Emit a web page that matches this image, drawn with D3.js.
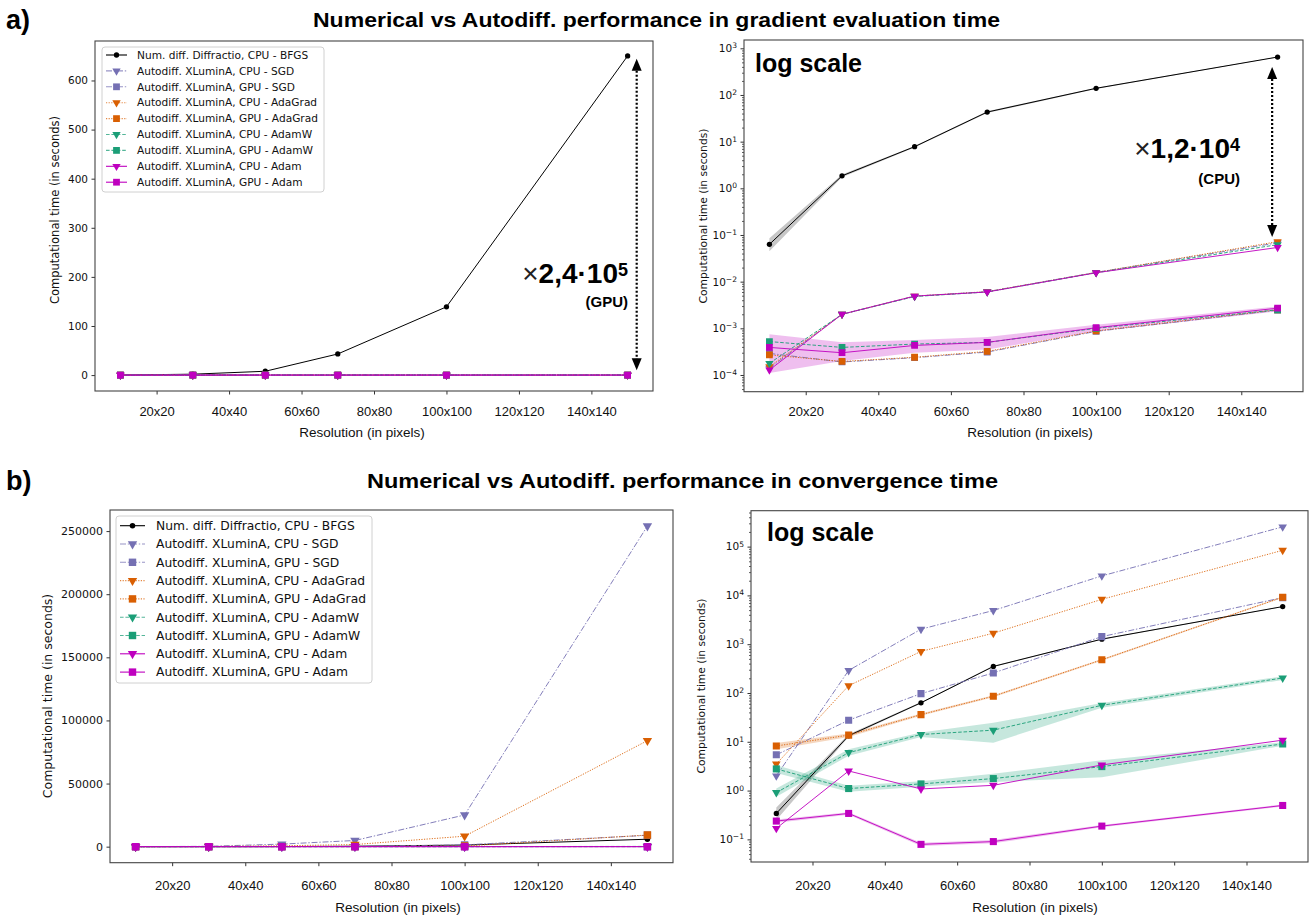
<!DOCTYPE html>
<html><head><meta charset="utf-8">
<script src="https://cdn.jsdelivr.net/npm/d3@7"></script>
<style>body{margin:0;background:#fff}</style>
</head><body>
<svg id="c" width="1315" height="917" xmlns="http://www.w3.org/2000/svg"></svg>
<script>
// ---------- DATA ----------
const resolutions = [10, 30, 50, 70, 100, 150];
const xTickValues = [20, 40, 60, 80, 100, 120, 140];
const xTickLabels = ["20x20", "40x40", "60x60", "80x80", "100x100", "120x120", "140x140"];
const seriesLabels = [
  "Num. diff. Diffractio, CPU - BFGS",
  "Autodiff. XLuminA, CPU - SGD",
  "Autodiff. XLuminA, GPU - SGD",
  "Autodiff. XLuminA, CPU - AdaGrad",
  "Autodiff. XLuminA, GPU - AdaGrad",
  "Autodiff. XLuminA, CPU - AdamW",
  "Autodiff. XLuminA, GPU - AdamW",
  "Autodiff. XLuminA, CPU - Adam",
  "Autodiff. XLuminA, GPU - Adam"
];

// a) gradient evaluation time (seconds)
const gradBFGS       = [0.063, 1.85, 7.8, 43, 139, 650];
const gradSGDcpu     = [1.4e-4, 2.0e-3, 4.9e-3, 6.1e-3, 1.58e-2, 0.068];
const gradSGDgpu     = [2.9e-4, 1.9e-4, 2.35e-4, 3.1e-4, 8.6e-4, 2.45e-3];
const gradAdaGradCpu = [1.5e-4, 2.0e-3, 4.9e-3, 6.1e-3, 1.57e-2, 0.072];
const gradAdaGradGpu = [2.7e-4, 1.95e-4, 2.4e-4, 3.2e-4, 8.8e-4, 2.5e-3];
const gradAdamWcpu   = [1.78e-4, 2.0e-3, 4.8e-3, 6.0e-3, 1.55e-2, 0.062];
const gradAdamWgpu   = [5.2e-4, 3.9e-4, 4.6e-4, 5.0e-4, 1.0e-3, 2.5e-3];
const gradAdamCpu    = [1.28e-4, 2.0e-3, 4.9e-3, 6.0e-3, 1.55e-2, 0.054];
const gradAdamGpu    = [3.9e-4, 3.0e-4, 4.3e-4, 5.0e-4, 1.03e-3, 2.7e-3];
// spread bands (low / high)
const gradBFGSLow    = [0.045, 1.72, 7.5, 41, 135, 640];
const gradBFGSHigh   = [0.085, 1.98, 8.1, 45, 143, 660];
const gradAdamGpuLow = [1.1e-4, 2.0e-4, 3.0e-4, 3.5e-4, 8.5e-4, 2.3e-3];
const gradAdamGpuHigh= [7.5e-4, 5.0e-4, 5.6e-4, 6.5e-4, 1.2e-3, 2.95e-3];

// b) convergence time (seconds)
const convBFGS       = [0.34, 13.3, 63, 350, 1270, 5900];
const convSGDcpu     = [2.0, 290, 2030, 4900, 25100, 254000];
const convSGDgpu     = [5.4, 27.7, 97, 257, 1430, 9000];
const convAdaGradCpu = [3.5, 141, 711, 1680, 8300, 84000];
const convAdaGradGpu = [8.2, 13.7, 36, 86, 480, 9200];
const convAdamWcpu   = [0.91, 6.0, 14.1, 17.3, 56, 203];
const convAdamWgpu   = [2.78, 1.1, 1.37, 1.76, 3.1, 9.0];
const convAdamCpu    = [0.168, 2.52, 1.08, 1.28, 3.35, 10.8];
const convAdamGpu    = [0.237, 0.34, 0.079, 0.09, 0.187, 0.495];
const convBFGSLow    = [0.25, 12.5, 61, 340, 1240, 5800];
const convBFGSHigh   = [0.45, 14.2, 65, 360, 1300, 6000];
const convAdaGradGpuLow  = [7.0, 12.6, 34, 82, 460, 8900];
const convAdaGradGpuHigh = [9.4, 14.8, 38, 90, 500, 9500];
const convAdamWcpuLow  = [0.75, 5.2, 12.5, 9.6, 50, 185];
const convAdamWcpuHigh = [1.1, 7.0, 15.5, 24.5, 62, 220];
const convAdamWgpuLow  = [2.3, 0.95, 1.2, 1.5, 1.87, 8.3];
const convAdamWgpuHigh = [3.3, 1.25, 1.55, 2.2, 4.2, 9.8];
const convAdamGpuLow   = [0.22, 0.32, 0.073, 0.083, 0.178, 0.47];
const convAdamGpuHigh  = [0.255, 0.36, 0.085, 0.097, 0.197, 0.52];

const linearGradTicks = [0, 100, 200, 300, 400, 500, 600];
const linearConvTicks = [0, 50000, 100000, 150000, 200000, 250000];

// ---------- STYLE ----------
const seriesColors = ["#000000", "#7570b3", "#7570b3", "#d95f02", "#d95f02", "#1b9e77", "#1b9e77", "#bf00bf", "#bf00bf"];
const seriesDash = [null, "6,1.8,1.4,1.8", "6,1.8,1.4,1.8", "1.2,1.4", "1.2,1.4", "3.6,1.8", "3.6,1.8", null, null];
const seriesMarker = ["circle", "tri", "square", "tri", "square", "tri", "square", "tri", "square"];

const gradSeries = [gradBFGS, gradSGDcpu, gradSGDgpu, gradAdaGradCpu, gradAdaGradGpu, gradAdamWcpu, gradAdamWgpu, gradAdamCpu, gradAdamGpu];
const convSeries = [convBFGS, convSGDcpu, convSGDgpu, convAdaGradCpu, convAdaGradGpu, convAdamWcpu, convAdamWgpu, convAdamCpu, convAdamGpu];
const gradBands = [[0, gradBFGSLow, gradBFGSHigh], [8, gradAdamGpuLow, gradAdamGpuHigh]];
const convBands = [[0, convBFGSLow, convBFGSHigh], [4, convAdaGradGpuLow, convAdaGradGpuHigh],
                   [5, convAdamWcpuLow, convAdamWcpuHigh], [6, convAdamWgpuLow, convAdamWgpuHigh],
                   [8, convAdamGpuLow, convAdamGpuHigh]];

const svg = d3.select("#c");
const SANS = "'Liberation Sans', Arial, Helvetica, sans-serif";
const DJ = "'DejaVu Sans', sans-serif";

function supLabel(sel, exp) {
  sel.text("");
  sel.append("tspan").text("10");
  sel.append("tspan").attr("dy", "-0.5em").attr("font-size", "0.72em").text(exp < 0 ? "\u2212" + (-exp) : exp);
}

function markerPath(type, size) {
  if (type === "tri") return d3.symbol(d3.symbolTriangle, size.tri)();
  if (type === "square") return d3.symbol(d3.symbolSquare, size.sq)();
  return d3.symbol(d3.symbolCircle, size.circ)();
}

function panel(cfg) {
  const g = svg.append("g");
  const x = d3.scaleLinear().domain([3, 157]).range([cfg.x0, cfg.x1]);
  const y = (cfg.log ? d3.scaleLog() : d3.scaleLinear()).domain(cfg.yDomain).range([cfg.y1, cfg.y0]);
  const clipId = "clip" + cfg.id;
  svg.append("defs").append("clipPath").attr("id", clipId)
    .append("rect").attr("x", cfg.x0).attr("y", cfg.y0).attr("width", cfg.x1 - cfg.x0).attr("height", cfg.y1 - cfg.y0);
  const plot = g.append("g").attr("clip-path", `url(#${clipId})`);

  cfg.bands.forEach(([si, lo, hi]) => {
    const area = d3.area().x((d, i) => x(resolutions[i])).y0((d, i) => y(lo[i])).y1((d, i) => y(hi[i]));
    plot.append("path").datum(lo).attr("d", area)
      .attr("fill", seriesColors[si]).attr("fill-opacity", si === 0 ? 0.22 : 0.25).attr("stroke", "none");
  });

  const line = d3.line().x((d, i) => x(resolutions[i])).y(d => y(d));
  cfg.series.forEach((vals, si) => {
    plot.append("path").datum(vals).attr("d", line)
      .attr("fill", "none").attr("stroke", seriesColors[si])
      .attr("stroke-width", cfg.lw).attr("stroke-opacity", si === 0 ? 1 : 0.9)
      .attr("stroke-dasharray", seriesDash[si]);
    plot.selectAll(null).data(vals).enter().append("path")
      .attr("d", markerPath(seriesMarker[si], cfg.msize))
      .attr("transform", (d, i) => `translate(${x(resolutions[i])},${y(d)})` + (seriesMarker[si] === "tri" ? " rotate(180)" : ""))
      .attr("fill", seriesColors[si]);
  });

  const xa = g.append("g").attr("transform", `translate(0,${cfg.y1})`)
    .call(d3.axisBottom(x).tickValues(xTickValues).tickFormat((d, i) => xTickLabels[i]).tickSize(3.5).tickSizeOuter(0).tickPadding(cfg.xPad));
  xa.select(".domain").remove();
  xa.selectAll("line").attr("stroke", "#333");
  xa.selectAll("text").attr("font-family", SANS).attr("font-size", cfg.xFont).attr("fill", "#111");

  let ya;
  if (cfg.log) {
    const lo = Math.ceil(Math.log10(cfg.yDomain[0])), hi = Math.floor(Math.log10(cfg.yDomain[1]));
    const major = d3.range(lo, hi + 1).map(e => Math.pow(10, e));
    const minor = [];
    for (let e = lo - 1; e <= hi; e++) for (let k = 2; k <= 9; k++) {
      const v = k * Math.pow(10, e);
      if (v > cfg.yDomain[0] && v < cfg.yDomain[1]) minor.push(v);
    }
    g.append("g").attr("transform", `translate(${cfg.x0},0)`)
      .call(d3.axisLeft(y).tickValues(minor).tickFormat("").tickSize(2).tickSizeOuter(0))
      .call(s => s.select(".domain").remove()).selectAll("line").attr("stroke", "#333").attr("stroke-width", 0.8);
    ya = g.append("g").attr("transform", `translate(${cfg.x0},0)`)
      .call(d3.axisLeft(y).tickValues(major).tickSize(3.5).tickSizeOuter(0).tickPadding(3.5));
    ya.selectAll(".tick text").each(function(d) { supLabel(d3.select(this), Math.round(Math.log10(d))); });
  } else {
    ya = g.append("g").attr("transform", `translate(${cfg.x0},0)`)
      .call(d3.axisLeft(y).tickValues(cfg.yTicks).tickFormat(d3.format("d")).tickSize(3.5).tickSizeOuter(0).tickPadding(3.5));
  }
  ya.select(".domain").remove();
  ya.selectAll("line").attr("stroke", "#333");
  ya.selectAll("text").attr("font-family", DJ).attr("font-size", cfg.yFont).attr("fill", "#111");

  g.append("rect").attr("x", cfg.x0).attr("y", cfg.y0).attr("width", cfg.x1 - cfg.x0).attr("height", cfg.y1 - cfg.y0)
    .attr("fill", "none").attr("stroke", "#444").attr("stroke-width", 1.1);

  g.append("text").attr("x", cfg.xTitleX).attr("y", cfg.xTitleY).attr("text-anchor", "middle")
    .attr("font-family", SANS).attr("font-size", cfg.xFont + 0.5).attr("fill", "#111").text("Resolution (in pixels)");
  g.append("text").attr("transform", `translate(${cfg.yTitleX},${cfg.yTitleY}) rotate(-90)`).attr("text-anchor", "middle")
    .attr("font-family", DJ).attr("font-size", cfg.yTitleFont).attr("fill", "#111").text("Computational time (in seconds)");

  if (cfg.log) {
    g.append("text").attr("x", cfg.x0 + cfg.logDx).attr("y", cfg.y0 + cfg.logDy)
      .attr("font-family", SANS).attr("font-weight", "bold").attr("font-size", 25).attr("fill", "#000").text("log scale");
  }
  if (cfg.legend) drawLegend(g, cfg.legend, cfg.msize);
  return {x, y, g};
}

function drawLegend(g, L, msize) {
  g.append("rect").attr("x", L.x).attr("y", L.y).attr("width", L.w).attr("height", L.h).attr("rx", 3)
    .attr("fill", "#fff").attr("fill-opacity", 0.85).attr("stroke", "#d0d0d0").attr("stroke-width", 1);
  seriesLabels.forEach((lab, si) => {
    const yy = L.y + L.first + si * L.gap;
    g.append("line").attr("x1", L.x + L.h0).attr("x2", L.x + L.h1).attr("y1", yy).attr("y2", yy)
      .attr("stroke", seriesColors[si]).attr("stroke-width", 1.1).attr("stroke-opacity", si === 0 || si > 6 ? 1 : 0.75)
      .attr("stroke-dasharray", seriesDash[si]);
    g.append("path").attr("d", markerPath(seriesMarker[si], msize))
      .attr("transform", `translate(${L.x + (L.h0 + L.h1) / 2},${yy})` + (seriesMarker[si] === "tri" ? " rotate(180)" : ""))
      .attr("fill", seriesColors[si]);
    g.append("text").attr("x", L.x + L.tx).attr("y", yy).attr("dy", "0.35em")
      .attr("font-family", DJ).attr("font-size", L.font).attr("fill", "#111").text(lab);
  });
}

// ---------- PANELS ----------
const A = panel({id: "A", x0: 95, x1: 653, y0: 41, y1: 391, log: false, yDomain: [-32.4, 680.4], yTicks: linearGradTicks,
  series: gradSeries, bands: [], lw: 1, msize: {tri: 30, sq: 46, circ: 22},
  xFont: 13, xPad: 12, yFont: 10.5, xTitleX: 362, xTitleY: 437, yTitleX: 59, yTitleY: 210, yTitleFont: 11.5,
  legend: {x: 102, y: 47, w: 222, h: 145, first: 8, gap: 15.9, h0: 4, h1: 25, tx: 35, font: 10.6}});
const B = panel({id: "B", x0: 744, x1: 1303, y0: 40, y1: 391.7, log: true, yDomain: [Math.pow(10, -4.358), Math.pow(10, 3.178)],
  series: gradSeries, bands: gradBands, lw: 1, msize: {tri: 30, sq: 46, circ: 22},
  xFont: 13, xPad: 12, yFont: 10.5, xTitleX: 1030, xTitleY: 437, yTitleX: 707, yTitleY: 216, yTitleFont: 10.7,
  logDx: 11, logDy: 32});
const C = panel({id: "C", x0: 110, x1: 673, y0: 510, y1: 862.7, log: false, yDomain: [-12700, 266700], yTicks: linearConvTicks,
  series: convSeries, bands: [], lw: 1, msize: {tri: 38, sq: 55, circ: 24},
  xFont: 13, xPad: 15, yFont: 11, xTitleX: 398, xTitleY: 912, yTitleX: 52, yTitleY: 696, yTitleFont: 12.5,
  legend: {x: 116, y: 516, w: 256, h: 167, first: 9.7, gap: 18.3, h0: 4, h1: 29, tx: 40, font: 12.3}});
const D = panel({id: "D", x0: 751, x1: 1308, y0: 510.7, y1: 862, log: true, yDomain: [Math.pow(10, -1.464), Math.pow(10, 5.736)],
  series: convSeries, bands: convBands, lw: 1, msize: {tri: 32, sq: 50, circ: 22},
  xFont: 13, xPad: 15, yFont: 10.5, xTitleX: 1035, xTitleY: 912, yTitleX: 705, yTitleY: 686, yTitleFont: 10.7,
  logDx: 16, logDy: 30});

// ---------- ANNOTATIONS ----------
const gpuArrow = {x: 152.5, from: 644, to: 10};
const cpuArrow = {x: 148.5, from: 400, to: 0.09};
function dArrow(P, a) {
  const xx = P.x(a.x), yt = P.y(a.from), yb = P.y(a.to);
  P.g.append("line").attr("x1", xx).attr("x2", xx).attr("y1", yt + 8).attr("y2", yb - 8)
    .attr("stroke", "#000").attr("stroke-width", 2.2).attr("stroke-dasharray", "2,2");
  P.g.append("path").attr("d", `M${xx},${yt} L${xx - 5},${yt + 12} L${xx + 5},${yt + 12} Z`).attr("fill", "#000");
  P.g.append("path").attr("d", `M${xx},${yb} L${xx - 5},${yb - 12} L${xx + 5},${yb - 12} Z`).attr("fill", "#000");
}
dArrow(A, gpuArrow);
dArrow(B, cpuArrow);

function factor(xr, yb, mant, exp, tag, tagY) {
  const t = svg.append("text").attr("x", xr).attr("y", yb).attr("text-anchor", "end")
    .attr("font-family", SANS).attr("font-size", 28).attr("fill", "#000");
  t.append("tspan").attr("font-weight", "normal").attr("fill", "#222").text("\u00d7");
  t.append("tspan").attr("font-weight", "bold").text(mant + "\u00b710");
  t.append("tspan").attr("font-weight", "bold").attr("font-size", 18).attr("dy", -7).text(exp);
  svg.append("text").attr("x", xr).attr("y", tagY).attr("text-anchor", "end")
    .attr("font-family", SANS).attr("font-weight", "bold").attr("font-size", 15).attr("fill", "#000").text(tag);
}
factor(628, 283, "2,4", "5", "(GPU)", 307);
factor(1240, 158, "1,2", "4", "(CPU)", 184);

// ---------- TITLES ----------
svg.append("text").attr("x", 6).attr("y", 29).attr("font-family", SANS).attr("font-weight", "bold").attr("font-size", 27).text("a)");
svg.append("text").attr("x", 6).attr("y", 490).attr("font-family", SANS).attr("font-weight", "bold").attr("font-size", 27).text("b)");
svg.append("text").attr("x", 313).attr("y", 27).attr("font-family", SANS).attr("font-weight", "bold").attr("font-size", 21)
  .attr("textLength", 687).attr("lengthAdjust", "spacingAndGlyphs").text("Numerical vs Autodiff. performance in gradient evaluation time");
svg.append("text").attr("x", 367).attr("y", 488).attr("font-family", SANS).attr("font-weight", "bold").attr("font-size", 21)
  .attr("textLength", 631).attr("lengthAdjust", "spacingAndGlyphs").text("Numerical vs Autodiff. performance in convergence time");
</script>
</body></html>
